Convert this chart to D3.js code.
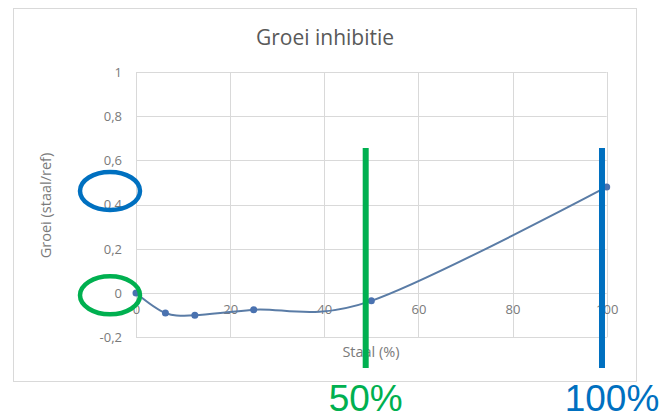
<!DOCTYPE html>
<html>
<head>
<meta charset="utf-8">
<script src="https://cdn.jsdelivr.net/npm/d3@7"></script>
<style>
  body { margin: 0; background: #fff; }
  svg { display: block; }
  text { font-family: "Open Sans", "Liberation Sans", sans-serif; }
</style>
</head>
<body>
<svg id="chart"></svg>
<script>
// Data
var staal = [0, 6.25, 12.5, 25, 50, 100];
var groei = [0, -0.09, -0.10, -0.075, -0.035, 0.48];
var xTicks = [0, 20, 40, 60, 80, 100];
var yTicks = [-0.2, 0, 0.2, 0.4, 0.6, 0.8, 1];

// Hand-drawn annotations on top (x in % staal, y in groei units)
var markLines = [48.8, 99];
var markLabels = ["50%", "100%"];
var markShift = [0, 10];
var markColours = ["#00b050", "#0070c0"];
var rings = [-0.01, 0.462];
var ringColours = ["#00b050", "#0070c0"];

var width = 662, height = 419;

var svg = d3.select("#chart")
  .attr("width", width)
  .attr("height", height);

// Chart frame
svg.append("rect")
  .attr("x", 13.5).attr("y", 8.5)
  .attr("width", 623).attr("height", 373)
  .attr("fill", "#fff")
  .attr("stroke", "#d9d9d9");

var x = d3.scaleLinear().domain([0, 100]).range([136, 606.7]);
var y = d3.scaleLinear().domain([-0.2, 1]).range([337.3, 72]);

var fmt = function(d) { return String(+d.toFixed(1)).replace(".", ",").replace("-", "-"); };

// Gridlines
svg.append("g")
  .selectAll("line")
  .data(yTicks)
  .enter().append("line")
  .attr("x1", x(0)).attr("x2", x(100))
  .attr("y1", function(d) { return Math.round(y(d)) + 0.5; })
  .attr("y2", function(d) { return Math.round(y(d)) + 0.5; })
  .attr("stroke", "#d9d9d9");

svg.append("g")
  .selectAll("line")
  .data(xTicks)
  .enter().append("line")
  .attr("y1", y(1)).attr("y2", y(-0.2))
  .attr("x1", function(d) { return Math.round(x(d)) + 0.5; })
  .attr("x2", function(d) { return Math.round(x(d)) + 0.5; })
  .attr("stroke", "#d9d9d9");

// Y axis labels
var yAxis = d3.axisLeft(y).tickValues(yTicks).tickSize(0).tickPadding(14).tickFormat(fmt);
svg.append("g")
  .attr("transform", "translate(" + x(0) + ",0)")
  .call(yAxis)
  .call(function(g) { g.select(".domain").remove(); })
  .selectAll("text")
  .attr("fill", "#7a7a7a")
  .style("font-size", "13px");

// X axis labels sit just under the zero line
var xAxis = d3.axisBottom(x).tickValues(xTicks).tickSize(0).tickPadding(12).tickFormat(fmt);
svg.append("g")
  .attr("transform", "translate(0," + y(0) + ")")
  .call(xAxis)
  .call(function(g) { g.select(".domain").remove(); })
  .selectAll("text")
  .attr("fill", "#7a7a7a")
  .style("font-size", "13px");

// Titles
svg.append("text")
  .attr("x", 325).attr("y", 45)
  .attr("text-anchor", "middle")
  .attr("fill", "#595959")
  .style("font-size", "21px")
  .text("Groei inhibitie");

svg.append("text")
  .attr("transform", "translate(51," + 205.5 + ") rotate(-90)")
  .attr("text-anchor", "middle")
  .attr("fill", "#7a7a7a")
  .style("font-size", "14.5px")
  .text("Groei (staal/ref)");

svg.append("text")
  .attr("x", 371).attr("y", 357)
  .attr("text-anchor", "middle")
  .attr("fill", "#7a7a7a")
  .style("font-size", "14.5px")
  .text("Staal (%)");

// Smoothed series line + markers
var points = staal.map(function(d, i) { return [d, groei[i]]; });
var line = d3.line()
  .x(function(d) { return x(d[0]); })
  .y(function(d) { return y(d[1]); })
  .curve(d3.curveCardinal.tension(0));

svg.append("path")
  .datum(points)
  .attr("d", line)
  .attr("fill", "none")
  .attr("stroke", "#5a7ca6")
  .attr("stroke-width", 2);

svg.append("g")
  .selectAll("circle")
  .data(points)
  .enter().append("circle")
  .attr("cx", function(d) { return x(d[0]); })
  .attr("cy", function(d) { return y(d[1]); })
  .attr("r", 3.5)
  .attr("fill", "#4a72b0");

// Annotation rings round the y labels
svg.append("g")
  .selectAll("ellipse")
  .data(rings)
  .enter().append("ellipse")
  .attr("cx", 110)
  .attr("cy", function(d) { return y(d); })
  .attr("rx", 30)
  .attr("ry", 19)
  .attr("fill", "none")
  .attr("stroke", function(d, i) { return ringColours[i]; })
  .attr("stroke-width", 4.5);

// Annotation bars + labels
svg.append("g")
  .selectAll("line")
  .data(markLines)
  .enter().append("line")
  .attr("x1", function(d) { return x(d); })
  .attr("x2", function(d) { return x(d); })
  .attr("y1", 148).attr("y2", 368)
  .attr("stroke", function(d, i) { return markColours[i]; })
  .attr("stroke-width", 6);

svg.append("g")
  .selectAll("text")
  .data(markLines)
  .enter().append("text")
  .attr("x", function(d, i) { return x(d) + markShift[i]; })
  .attr("y", 411)
  .attr("text-anchor", "middle")
  .attr("fill", function(d, i) { return markColours[i]; })
  .style("font-family", "'Liberation Sans', Arial, sans-serif")
  .style("font-size", "37px")
  .text(function(d, i) { return markLabels[i]; });
</script>
</body>
</html>
